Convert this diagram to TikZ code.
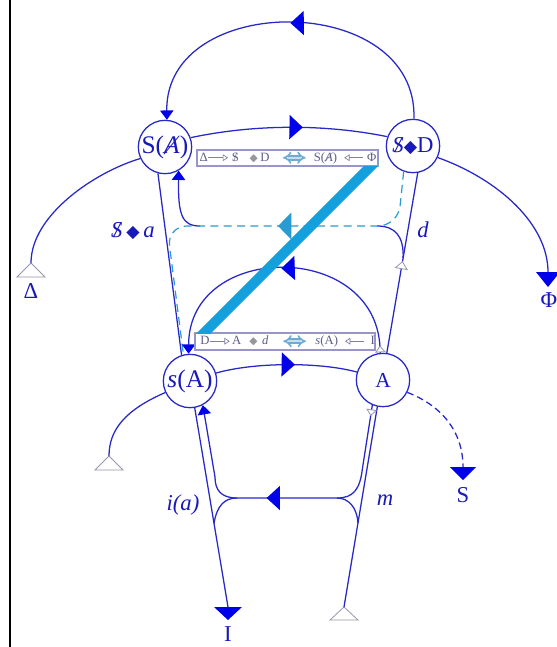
\documentclass[tikz,border=0pt]{standalone}
\usepackage{fontspec}
\setmainfont{Liberation Serif}
\newfontfamily\symf{DejaVu Sans}
\usetikzlibrary{arrows.meta,decorations.markings,calc}

\definecolor{lnblue}{RGB}{40,40,200}
\definecolor{fillblue}{RGB}{0,0,235}
\definecolor{txtblue}{RGB}{25,25,185}
\definecolor{barcyan}{RGB}{20,160,220}
\definecolor{dashcyan}{RGB}{40,155,210}
\definecolor{leggray}{RGB}{95,95,135}
\definecolor{legframe}{RGB}{150,150,205}
\definecolor{diagray}{RGB}{150,150,155}
\definecolor{dblblue}{RGB}{110,170,210}
\definecolor{opengray}{RGB}{150,150,175}

\newcommand\Sst{\iffontchar\font"A7A8 \symbol{"A7A8}\else\ooalign{S\cr\hidewidth/\hidewidth}\fi}
\newcommand\Ast{\iffontchar\font"023A \symbol{"023A}\else\ooalign{A\cr\hidewidth/\hidewidth}\fi}
\newcommand\dia[1]{{\symf\fontsize{#1}{#1}\selectfont ◆}}
\newcommand\legdia{{\color{diagray}\symf\fontsize{8}{8}\selectfont ◆}}
\newcommand\legarr{\tikz[baseline=-0.6ex]\draw[leggray!80, line width=0.5pt, -{Triangle[open,length=4pt,width=5pt]}] (0pt,0pt) -- (15pt,0pt);}
\newcommand\legarrr{\tikz[baseline=-0.6ex]\draw[leggray!80, line width=0.5pt, {Triangle[open,length=4pt,width=5pt]}-] (0pt,0pt) -- (14pt,0pt);}
\newcommand\legdbl{\tikz[baseline=-0.6ex]\draw[dblblue, line width=1.2pt, double=white!60!dblblue, double distance=1.8pt, {Implies}-{Implies}] (0pt,0pt) -- (17pt,0pt);}
\newcommand\midtip{\arrow{Triangle[length=10pt,width=18pt,color=fillblue]}}
\newcommand\cyantip{\arrow{Triangle[length=10pt,width=20pt,color=dashcyan]}}
\newcommand\opentip{\arrow{Triangle[open,length=5pt,width=8pt,line width=0.6pt,color=opengray,fill=white]}}
\newcommand\opentipr{\arrowreversed{Triangle[open,length=6pt,width=10pt,line width=0.6pt,color=opengray,fill=white]}}

\begin{document}
\begin{tikzpicture}[x=0.75pt,y=-0.75pt,
  conn/.style={draw=lnblue, line width=0.95pt},
  endarr/.style={-{Triangle[length=7pt,width=10pt,color=fillblue]}},
  circnode/.style={circle, draw=lnblue, line width=0.95pt, fill=white, minimum size=40pt, inner sep=0pt, text=txtblue},
  lbl/.style={text=txtblue, inner sep=0pt, font=\fontsize{17}{17}\selectfont},
  opentri/.style={draw=opengray, fill=white, line width=0.6pt},
  legbox/.style={draw=legframe, fill=white, line width=0.8pt, inner sep=0pt, minimum height=12pt, text=leggray, font=\fontsize{9.5}{9.5}\selectfont},
  dashc/.style={draw=dashcyan, line width=0.9pt, dash pattern=on 6pt off 4pt}]
\fill[white] (0,0) rectangle (557,647);
\useasboundingbox (0,0) rectangle (557,647);
\draw[black, line width=1.1pt] (10,0) -- (10,647);

% main nodes
\node[circnode, font=\fontsize{19}{19}\selectfont] (SA) at (165,147) {S(\textit{\Ast})};
\node[circnode, font=\fontsize{17}{17}\selectfont] (SD) at (413,146) {\textit{\Sst}\dia{13}D};
\node[circnode, font=\fontsize{19}{19}\selectfont] (sA) at (190,381) {\textit{s}(A)};
\node[circnode, font=\fontsize{16}{16}\selectfont] (A) at (383,380) {A};

% terminals
\coordinate (tDel) at (31,263);
\coordinate (tPhi) at (548,272);
\coordinate (tSl) at (109,456);
\coordinate (tI) at (228,607);
\coordinate (tR) at (344,607);
\coordinate (tS) at (463,467);
\draw[opentri] (tDel) -- ++(-14,14) -- ++(28,0) -- cycle;
\fill[fillblue] (tPhi) -- ++(-12,0) -- ++(12,15) -- ++(12,-15) -- cycle;
\draw[opentri] (tSl) -- ++(-14,14) -- ++(28,0) -- cycle;
\fill[fillblue] (tI) -- ++(-14,0) -- ++(14,13) -- ++(14,-13) -- cycle;
\draw[opentri] (tR) -- ++(-14,13) -- ++(28,0) -- cycle;
\fill[fillblue] (tS) -- ++(-13,0) -- ++(13,13) -- ++(13,-13) -- cycle;

% labels
\node[lbl] (lDel) at (31,291) {Δ};
\node[lbl] (lPhi) at (549,300) {Φ};
\node[lbl] (lS) at (463,495) {S};
\node[lbl] (lI) at (228,634) {I};
\node[lbl] (lSa) at (133,231) {\textit{\Sst}\,\dia{13}\,\textit{a}};
\node[lbl] (ld) at (423,230) {\textit{d}};
\node[lbl] (lia) at (183,505) {\textit{i(a)}};
\node[lbl] (lm) at (385,500) {\textit{m}};

% upper edges
\draw[conn, endarr, postaction={decorate}, decoration={markings, mark=at position 0.5 with {\midtip}}]
  (SD.88) .. controls (418,-9) and (165,-9) .. (SA.86);
\draw[conn, postaction={decorate}, decoration={markings, mark=at position 0.57 with {\midtip}}]
  (SA.20) .. controls (255,124) and (325,124) .. (SD.160);
\draw[conn] (SA.205) .. controls (95,172) and (31,215) .. (tDel);
\draw[conn] (SD.-25) .. controls (500,180) and (548,225) .. (tPhi);
\draw[conn] (SA.-105) -- (sA.108);
\draw[conn, postaction={decorate}, decoration={markings, mark=at position 0.49 with {\opentipr}}]
  (SD.-80) -- (A.82);

% route between the two upper and lower pairs
\coordinate (lj1) at (200,226);
\coordinate (rj1) at (377,226);
\coordinate (dj) at ($(SD.-80)!0.473!(A.82)$);
\draw[conn, endarr] (lj1) .. controls (182,226) and (178,215) .. (SA.-60);
\draw[conn] (rj1) .. controls (395,226) and (404,236) .. (dj);
\draw[dashc, rounded corners=15pt, postaction={decorate}, decoration={markings, mark=at position 0.42 with {\cyantip}}]
  (SD.-110) -- (398,226) -- (167,226) -- (sA.104);

% lower arcs
\draw[conn, endarr, postaction={decorate}, decoration={markings, mark=at position 0.025 with {\opentip}, mark=at position 0.51 with {\midtip}}]
  (A.96) .. controls (381,240) and (189,240) .. (sA.93);
\draw[conn, postaction={decorate}, decoration={markings, mark=at position 0.56 with {\midtip}}]
  (sA.17) .. controls (255,362) and (320,362) .. (A.163);
\draw[conn] (sA.205) .. controls (125,410) and (109,430) .. (tSl);
\draw[conn, dash pattern=on 5pt off 3pt] (A.-27) .. controls (440,405) and (463,430) .. (tS);

% bottom structure
\coordinate (hL) at (237,498);
\coordinate (hR) at (337,498);
\draw[conn] (sA.-80) -- (tI);
\draw[conn] (A.-102) -- (tR);
\draw[conn, endarr, postaction={decorate}, decoration={markings, mark=at position 0.035 with {\opentip}, mark=at position 0.565 with {\midtip}}]
  (A.-113) -- (362.5,468) .. controls (360,490) and (353,498) .. (hR) -- (hL) .. controls (221,498) and (215,490) .. (215,477) -- (sA.-62);
\coordinate (jl) at ($(sA.-80)!0.58!(tI)$);
\coordinate (jr) at ($(A.-102)!0.58!(tR)$);
\draw[conn] (jl) .. controls (217,505) and (225,498) .. (hL);
\draw[conn] (hR) .. controls (349,498) and (357,508) .. (jr);

% legends
\node[legbox] (legU) at (287.5,158) {\hbox to 135.75pt{\hspace{2pt}Δ\legarr\hspace{2.5pt}\Sst\hspace{8pt}\legdia\hspace{2pt}D\hspace{8pt}\legdbl\hspace{4pt}S(\textit{\Ast})\hspace{5pt}\legarrr\hspace{3pt}Φ\hfill}};
\node[legbox, minimum height=12.75pt] (legL) at (285,341.5) {\hbox to 135pt{\hspace{4pt}D\legarr\hspace{1.5pt}A\hspace{6pt}\legdia\hspace{3.5pt}\textit{d}\hspace{9pt}\legdbl\hspace{5pt}\textit{s}(A)\hspace{5pt}\legarrr\hspace{5pt}I\hfill}};

% thick bar between the legends
\coordinate (bt) at ([shift={(-8,0)}]legU.south east);
\coordinate (bb) at ([shift={(10,0)}]legL.north west);
\begin{scope}
\clip (0,166) rectangle (557,333);
\draw[barcyan, line width=7.5pt] ($(bt)!-0.1!(bb)$) -- ($(bb)!-0.1!(bt)$);
\end{scope}
\end{tikzpicture}
\end{document}
